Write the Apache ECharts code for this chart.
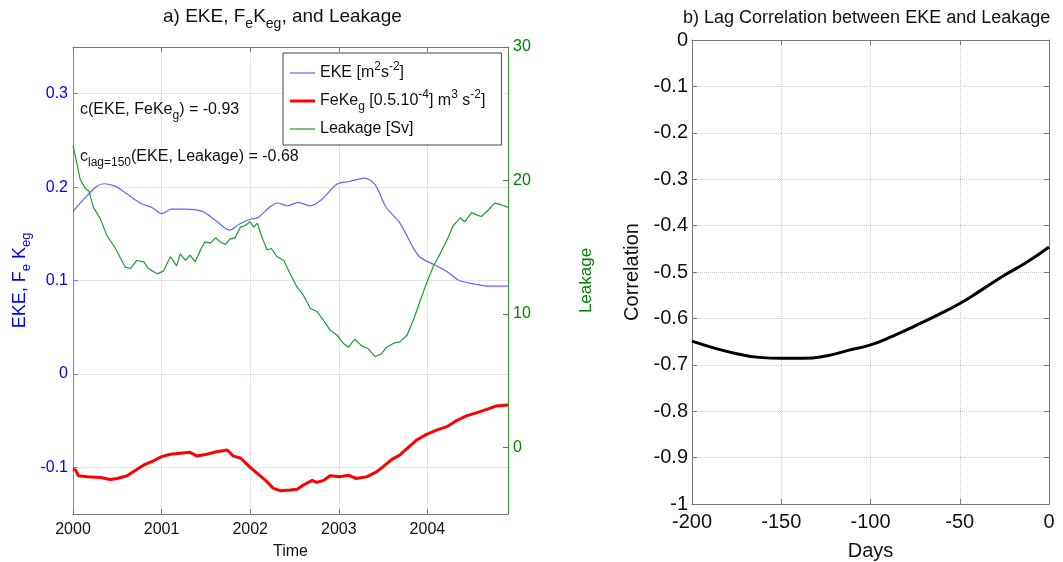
<!DOCTYPE html>
<html>
<head>
<meta charset="utf-8">
<title>EKE, FeKeg and Leakage</title>
<script src="https://cdn.jsdelivr.net/npm/echarts@6/dist/echarts.min.js"></script>
<style>
    html, body { margin: 0; padding: 0; background: #fff; }
    #chart { width: 1063px; height: 562px; }
</style>
</head>
<body>
<div id="chart"></div>
<script>
// ---- data ----
var ekeYears = [2000.00, 2000.13, 2000.27, 2000.35, 2000.48, 2000.62, 2000.76, 2000.90, 2001.00, 2001.11,
    2001.25, 2001.46, 2001.60, 2001.77, 2001.87, 2002.01, 2002.08, 2002.22, 2002.31, 2002.42,
    2002.54, 2002.68, 2002.81, 2002.98, 2003.12, 2003.29, 2003.41, 2003.53, 2003.69, 2003.90,
    2004.08, 2004.22, 2004.36, 2004.55, 2004.70, 2004.91];
var ekeValues = [0.174, 0.188, 0.201, 0.2036, 0.2008, 0.192, 0.183, 0.1776, 0.1715, 0.1765,
    0.1765, 0.174, 0.165, 0.154, 0.160, 0.1658, 0.1668, 0.1786, 0.183, 0.180,
    0.1836, 0.180, 0.187, 0.2033, 0.206, 0.2097, 0.2026, 0.179, 0.1615, 0.1265,
    0.1168, 0.1097, 0.100, 0.096, 0.094, 0.094];

var fekYears = [2000.00, 2000.03, 2000.06, 2000.16, 2000.31, 2000.42, 2000.50, 2000.61, 2000.68, 2000.80,
    2000.91, 2001.00, 2001.10, 2001.21, 2001.32, 2001.40, 2001.51, 2001.62, 2001.74, 2001.81,
    2001.89, 2002.00, 2002.11, 2002.19, 2002.26, 2002.34, 2002.45, 2002.53, 2002.60, 2002.70,
    2002.75, 2002.83, 2002.90, 2003.02, 2003.11, 2003.20, 2003.32, 2003.43, 2003.50, 2003.60,
    2003.69, 2003.75, 2003.88, 2003.99, 2004.11, 2004.22, 2004.33, 2004.44, 2004.56, 2004.67,
    2004.78, 2004.91];
var fekValues = [-0.102, -0.103, -0.109, -0.110, -0.111, -0.113, -0.112, -0.109, -0.1047, -0.0975,
    -0.093, -0.0886, -0.086, -0.085, -0.084, -0.088, -0.086, -0.0833, -0.0815, -0.088,
    -0.090, -0.100, -0.109, -0.1154, -0.1225, -0.125, -0.1243, -0.1236, -0.119, -0.114,
    -0.1161, -0.114, -0.109, -0.110, -0.1086, -0.112, -0.110, -0.1047, -0.0993, -0.0915,
    -0.0868, -0.0815, -0.0707, -0.0647, -0.060, -0.0565, -0.050, -0.045, -0.0415, -0.038,
    -0.0343, -0.0332];

var leakYears = [2000.00, 2000.04, 2000.08, 2000.14, 2000.18, 2000.23, 2000.31, 2000.38, 2000.48, 2000.59,
    2000.65, 2000.72, 2000.80, 2000.85, 2000.95, 2001.02, 2001.10, 2001.17, 2001.21, 2001.27,
    2001.32, 2001.38, 2001.44, 2001.49, 2001.55, 2001.61, 2001.66, 2001.72, 2001.77, 2001.83,
    2001.89, 2001.94, 2002.00, 2002.04, 2002.08, 2002.13, 2002.19, 2002.24, 2002.30, 2002.38,
    2002.45, 2002.53, 2002.60, 2002.68, 2002.75, 2002.83, 2002.90, 2002.98, 2003.05, 2003.11,
    2003.18, 2003.26, 2003.33, 2003.41, 2003.48, 2003.54, 2003.62, 2003.69, 2003.77, 2003.84,
    2003.92, 2003.99, 2004.07, 2004.12, 2004.18, 2004.24, 2004.29, 2004.37, 2004.42, 2004.50,
    2004.56, 2004.61, 2004.69, 2004.76, 2004.82, 2004.91];
var leakValues = [22.6, 21.4, 20.1, 19.4, 19.2, 18.0, 17.1, 15.9, 14.9, 13.5,
    13.4, 14.0, 13.9, 13.4, 13.0, 13.2, 14.3, 13.6, 14.5, 14.0,
    14.4, 13.9, 14.8, 15.4, 15.3, 15.7, 15.4, 15.2, 15.6, 15.7,
    16.5, 16.6, 16.9, 16.5, 16.8, 15.8, 14.8, 14.9, 14.3, 14.0,
    13.0, 12.0, 11.4, 10.4, 10.2, 9.5, 8.8, 8.4, 7.8, 7.5,
    8.1, 7.6, 7.4, 6.8, 7.0, 7.5, 7.8, 7.9, 8.4, 9.5,
    11.0, 12.3, 13.6, 14.2, 15.0, 15.8, 16.6, 17.2, 16.9, 17.6,
    17.4, 17.3, 17.8, 18.3, 18.2, 18.0];

var lagDays = [-200, -187.5, -175, -162.5, -150, -137.5, -125, -112.5, -100, -87.5,
    -75, -62.5, -50, -37.5, -25, -12.5, 0];
var lagCorr = [-0.649, -0.664, -0.676, -0.684, -0.686, -0.686, -0.681, -0.669, -0.657, -0.638,
    -0.616, -0.593, -0.568, -0.538, -0.507, -0.479, -0.446];

var legendLabels = {
    'EKE': 'EKE [m{sup|2}s{sup|-2}]',
    'FeKeg': 'FeKe{sub|g} [0.5.10{sup|-4}] m{sup|3} s{sup|-2}]',
    'Leakage': 'Leakage [Sv]'
};

function pairs(xs, ys) {
    var out = [];
    for (var i = 0; i < xs.length; i++) {
        out.push([xs[i], ys[i]]);
    }
    return out;
}

// sub / superscript styles for rich text
function scripts(size) {
    var small = Math.round(size * 0.72);
    return {
        sub: { fontSize: small, lineHeight: small, verticalAlign: 'bottom' },
        sup: { fontSize: small, lineHeight: small, verticalAlign: 'top' }
    };
}

var FONT = '"Liberation Sans", Arial, Helvetica, sans-serif';
var BLUE = '#0000ff';
var GREEN = '#008000';
var FRAME = '#777777';

function frameAxis(extra) {
    var base = {
        type: 'value',
        axisLine: { onZero: false, lineStyle: { color: FRAME } },
        axisTick: { inside: true, length: 5, lineStyle: { color: FRAME } },
        axisLabel: { show: false },
        splitLine: { show: false }
    };
    return Object.assign(base, extra);
}

function createChart() {
    var myChart = echarts.init(document.getElementById('chart'));

    var option = {
        animation: false,
        backgroundColor: '#ffffff',
        textStyle: { fontFamily: FONT },
        title: [
            {
                text: 'a) EKE, F{sub|e}K{sub|eg}, and Leakage',
                left: 163, top: 3, padding: 0,
                textStyle: { fontSize: 19, fontWeight: 'normal', color: '#111', lineHeight: 28, rich: scripts(19) }
            },
            {
                text: 'b) Lag Correlation between EKE and Leakage',
                left: 683, top: 6, padding: 0,
                textStyle: { fontSize: 18, fontWeight: 'normal', color: '#111', lineHeight: 24 }
            },
            {
                text: 'c(EKE, FeKe{sub|g}) = -0.93',
                left: 80, top: 98, padding: 0,
                textStyle: { fontSize: 16, fontWeight: 'normal', color: '#111', lineHeight: 24, rich: scripts(16) }
            },
            {
                text: 'c{sub|lag=150}(EKE, Leakage) = -0.68',
                left: 80, top: 145, padding: 0,
                textStyle: { fontSize: 16, fontWeight: 'normal', color: '#111', lineHeight: 24, rich: scripts(16) }
            }
        ],
        legend: {
            orient: 'vertical',
            left: 283,
            top: 53,
            padding: [8, 16, 4, 7],
            itemGap: 4,
            itemWidth: 25,
            itemHeight: 14,
            symbolKeepAspect: true,
            backgroundColor: '#ffffff',
            borderColor: '#444',
            borderWidth: 1,
            borderRadius: 0,
            data: [
                { name: 'EKE', icon: 'path://M0,0h25v1.2h-25z' },
                { name: 'FeKeg', icon: 'path://M0,0h25v3h-25z' },
                { name: 'Leakage', icon: 'path://M0,0h25v1.2h-25z' }
            ],
            formatter: function (name) {
                return legendLabels[name];
            },
            textStyle: {
                fontSize: 16,
                color: '#111',
                lineHeight: 24,
                rich: scripts(16)
            }
        },
        grid: [
            { left: 73, top: 47, width: 435, height: 467, outerBoundsMode: 'none' },
            { left: 692, top: 40, width: 357, height: 464, outerBoundsMode: 'none' }
        ],
        xAxis: [
            {
                type: 'value', gridIndex: 0, position: 'bottom',
                min: 2000, max: 2004.91, interval: 1,
                name: 'Time', nameLocation: 'middle', nameGap: 30,
                nameTextStyle: { fontSize: 16, color: '#111' },
                axisLine: { onZero: false, lineStyle: { color: FRAME } },
                axisTick: { inside: true, length: 5, lineStyle: { color: FRAME } },
                axisLabel: {
                    fontSize: 16, color: '#111', margin: 8, showMaxLabel: false,
                    formatter: function (v) { return String(Math.round(v)); }
                },
                splitLine: { show: true, lineStyle: { color: '#e2e2ee', width: 1 } }
            },
            frameAxis({ gridIndex: 0, position: 'top', min: 2000, max: 2004.91, interval: 1 }),
            {
                type: 'value', gridIndex: 1, position: 'bottom',
                min: -200, max: 0, interval: 50,
                name: 'Days', nameLocation: 'middle', nameGap: 37,
                nameTextStyle: { fontSize: 20, color: '#111' },
                axisLine: { onZero: false, lineStyle: { color: FRAME } },
                axisTick: { inside: true, length: 5, lineStyle: { color: FRAME } },
                axisLabel: { fontSize: 20, color: '#111', margin: 8 },
                splitLine: { show: true, lineStyle: { color: '#cccccc', type: 'dotted', width: 1 } }
            },
            frameAxis({ gridIndex: 1, position: 'top', min: -200, max: 0, interval: 50 })
        ],
        yAxis: [
            {
                type: 'value', gridIndex: 0, position: 'left',
                min: -0.15, max: 0.35, splitNumber: 5,
                name: 'EKE, F{sub|e} K{sub|eg}', nameLocation: 'middle', nameGap: 40, nameRotate: 90,
                nameTextStyle: { fontSize: 18, color: BLUE, lineHeight: 26, rich: scripts(18) },
                axisLine: { onZero: false, lineStyle: { color: '#7a7aff' } },
                axisTick: { inside: true, length: 5, lineStyle: { color: '#7a7aff' } },
                axisLabel: {
                    fontSize: 16, color: BLUE, margin: 5, showMinLabel: false, showMaxLabel: false,
                    formatter: function (v) {
                        var r = Math.round(v * 10);
                        if (Math.abs(v * 10 - r) > 1e-6) return '';
                        return String(r / 10);
                    }
                },
                splitLine: { show: true, lineStyle: { color: '#e2e2f6', width: 1 } }
            },
            {
                type: 'value', gridIndex: 0, position: 'right',
                min: -5, max: 30, splitNumber: 4,
                name: 'Leakage', nameLocation: 'middle', nameGap: 70, nameRotate: 90,
                nameTextStyle: { fontSize: 17, color: GREEN },
                axisLine: { onZero: false, lineStyle: { color: '#2a9a2a' } },
                axisTick: { inside: true, length: 5, lineStyle: { color: '#2a9a2a' } },
                axisLabel: {
                    fontSize: 16, color: GREEN, margin: 5, showMinLabel: false,
                    formatter: function (v) {
                        if (Math.abs(v % 10) > 1e-6) return '';
                        return String(v);
                    }
                },
                splitLine: { show: false }
            },
            {
                type: 'value', gridIndex: 1, position: 'left',
                min: -1, max: 0, interval: 0.1,
                name: 'Correlation', nameLocation: 'middle', nameGap: 50, nameRotate: 90,
                nameTextStyle: { fontSize: 20, color: '#111' },
                axisLine: { onZero: false, lineStyle: { color: FRAME } },
                axisTick: { inside: true, length: 5, lineStyle: { color: FRAME } },
                axisLabel: { fontSize: 20, color: '#111', margin: 4 },
                splitLine: { show: true, lineStyle: { color: '#cccccc', type: 'dotted', width: 1 } }
            },
            frameAxis({ gridIndex: 1, position: 'right', min: -1, max: 0, interval: 0.1 })
        ],
        series: [
            {
                name: 'EKE',
                type: 'line',
                xAxisIndex: 0, yAxisIndex: 0,
                symbol: 'none',
                smooth: 0.3,
                data: pairs(ekeYears, ekeValues),
                lineStyle: { color: '#6464ff', width: 1.2 },
                itemStyle: { color: '#6464ff' }
            },
            {
                name: 'FeKeg',
                type: 'line',
                xAxisIndex: 0, yAxisIndex: 0,
                symbol: 'none',
                data: pairs(fekYears, fekValues),
                lineStyle: { color: '#ff0000', width: 3 },
                itemStyle: { color: '#ff0000' }
            },
            {
                name: 'Leakage',
                type: 'line',
                xAxisIndex: 0, yAxisIndex: 1,
                symbol: 'none',
                data: pairs(leakYears, leakValues),
                lineStyle: { color: '#1f9a34', width: 1.2 },
                itemStyle: { color: '#1f9a34' }
            },
            {
                name: 'Lag correlation',
                type: 'line',
                xAxisIndex: 2, yAxisIndex: 2,
                symbol: 'none',
                smooth: true,
                data: pairs(lagDays, lagCorr),
                lineStyle: { color: '#000000', width: 3 },
                itemStyle: { color: '#000000' }
            }
        ]
    };

    myChart.setOption(option);
}

createChart();
</script>
</body>
</html>
